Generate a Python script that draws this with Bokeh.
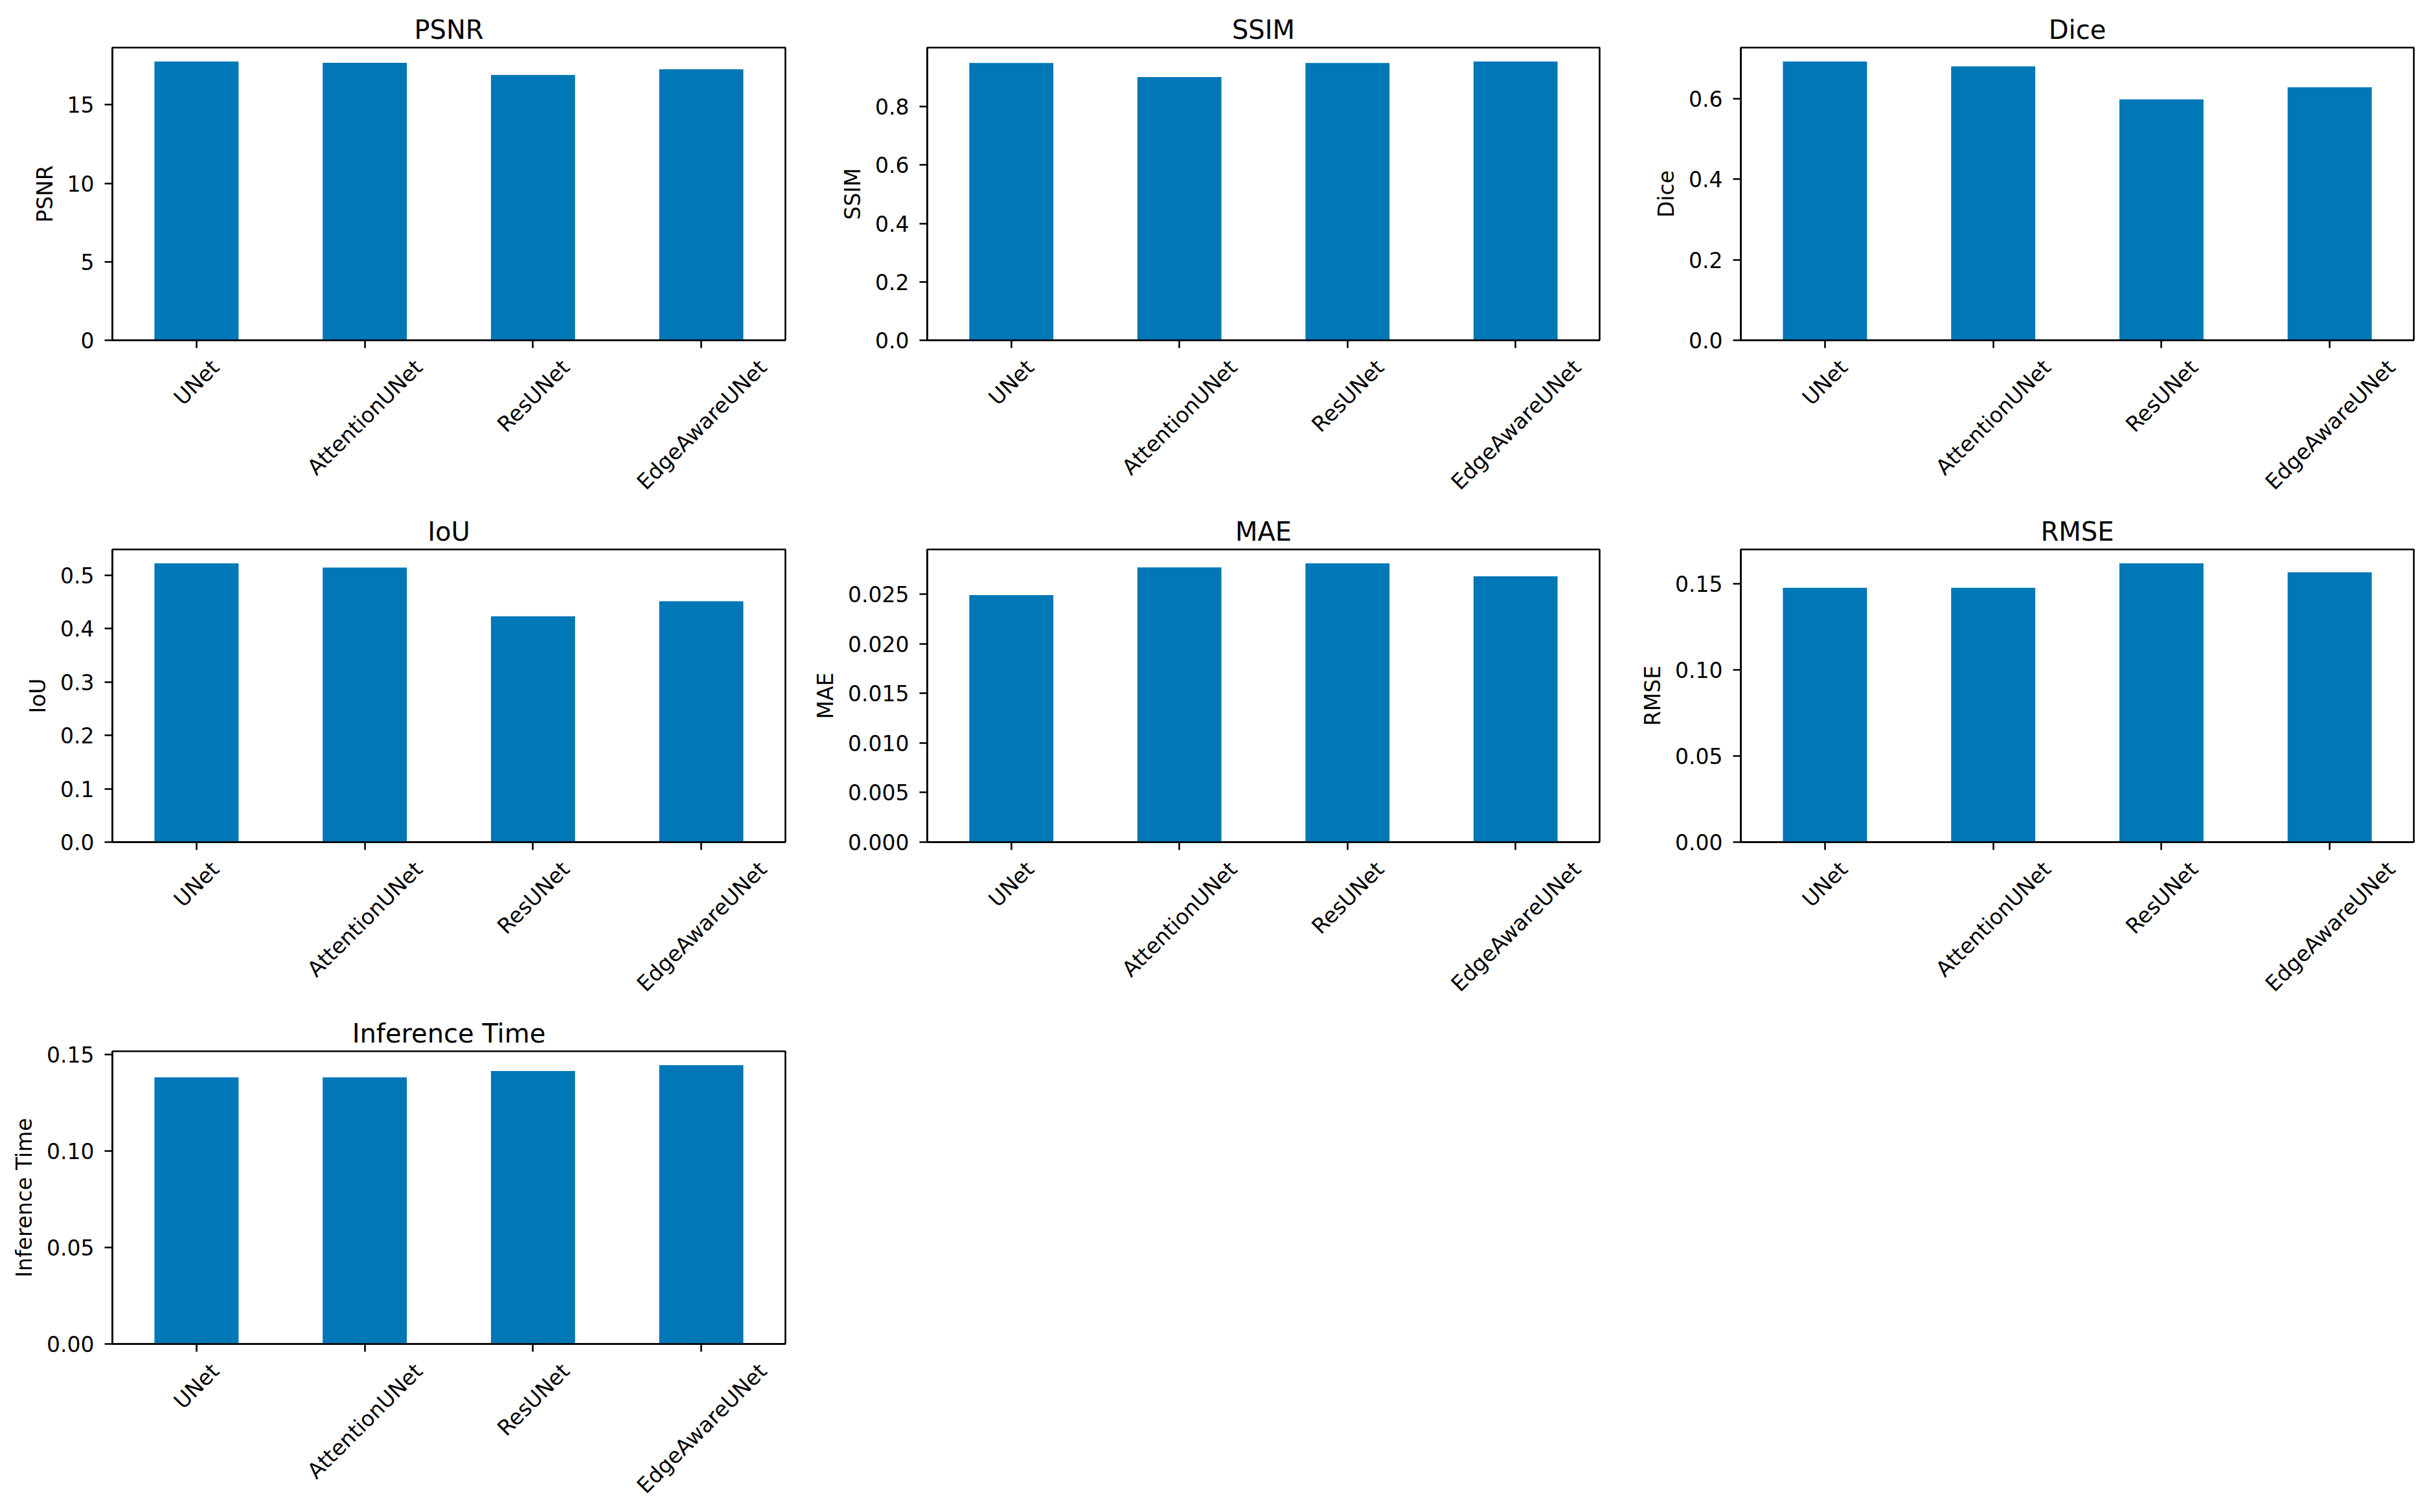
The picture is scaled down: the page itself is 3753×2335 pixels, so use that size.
import math
from bokeh.plotting import figure
from bokeh.layouts import gridplot
from bokeh.models import (Range1d, FixedTicker, PrintfTickFormatter, LinearAxis,
                          CustomJSTickFormatter)
from bokeh.embed import file_html
from bokeh.resources import INLINE

# ---------------- data ----------------
models = ["UNet", "AttentionUNet", "ResUNet", "EdgeAwareUNet"]

psnr = [17.76, 17.68, 16.90, 17.27]
ssim = [0.949, 0.901, 0.949, 0.954]
dice = [0.692, 0.680, 0.598, 0.628]
iou = [0.522, 0.514, 0.423, 0.451]
mae = [0.0249, 0.0277, 0.0281, 0.0268]
rmse = [0.1476, 0.1476, 0.1618, 0.1566]
inference_time = [0.1383, 0.1383, 0.1416, 0.1446]

metric_names = ["PSNR", "SSIM", "Dice", "IoU", "MAE", "RMSE", "Inference Time"]
metric_values = [psnr, ssim, dice, iou, mae, rmse, inference_time]

psnr_ticks = [0, 5, 10, 15]
ssim_ticks = [0.0, 0.2, 0.4, 0.6, 0.8]
dice_ticks = [0.0, 0.2, 0.4, 0.6]
iou_ticks = [0.0, 0.1, 0.2, 0.3, 0.4, 0.5]
mae_ticks = [0.0, 0.005, 0.010, 0.015, 0.020, 0.025]
rmse_ticks = [0.00, 0.05, 0.10, 0.15]
time_ticks = [0.00, 0.05, 0.10, 0.15]
metric_ticks = [psnr_ticks, ssim_ticks, dice_ticks, iou_ticks, mae_ticks, rmse_ticks, time_ticks]
tick_formats = ["%d", "%.1f", "%.1f", "%.1f", "%.3f", "%.2f", "%.2f"]

# ---------------- style / layout ----------------
FONT = "DejaVu Sans"
BAR_COLOR = "#0077B6"
TICK_PX = 33
TITLE_PX = 40
FRAME_W = 1039
FRAME_H = 452
COL_W = [1252, 1257, 1237]
COL_LB = [173, 178, 178]
ROW_H = [783, 775, 775]
ROW_TB = [73, 65, 65]
LINE_W = 2.6
LABEL_STANDOFF = 24

# approximate DejaVu Sans advance widths (em), used to centre rotated labels
CW = {"U": .732, "N": .748, "e": .615, "t": .392, "A": .684, "n": .634, "i": .278,
      "o": .612, "R": .695, "s": .521, "E": .632, "d": .635, "g": .635, "w": .818,
      "a": .613, "r": .411}


def text_w(s):
    return sum(CW.get(c, 0.6) for c in s) * TICK_PX


def style_axis(ax):
    ax.axis_line_color = "black"
    ax.axis_line_width = LINE_W
    ax.major_tick_line_color = "black"
    ax.major_tick_line_width = LINE_W
    ax.major_tick_out = 12
    ax.major_tick_in = 0
    ax.minor_tick_line_color = None
    ax.major_label_text_font = FONT
    ax.major_label_text_font_size = f"{TICK_PX}px"
    ax.major_label_text_color = "black"


def make_panel(idx):
    name = metric_names[idx]
    vals = metric_values[idx]
    r, c = divmod(idx, 3)
    w = COL_W[c]
    h = ROW_H[r]
    lb = COL_LB[c]
    tb = ROW_TB[r]
    rb = w - lb - FRAME_W
    bb = h - tb - FRAME_H
    xs = list(range(len(models)))
    p = figure(width=w, height=h, output_backend="svg", toolbar_location=None,
               x_range=Range1d(-0.5, len(models) - 0.5),
               y_range=Range1d(0, 1.05 * max(vals)),
               min_border_left=lb, min_border_right=rb,
               min_border_top=tb, min_border_bottom=bb,
               title=name)
    p.vbar(x=xs, top=vals, width=0.5, bottom=0, fill_color=BAR_COLOR, line_color=None)

    p.title.text_font = FONT
    p.title.text_font_size = f"{TITLE_PX}px"
    p.title.text_font_style = "normal"
    p.title.text_color = "black"
    p.title.align = "center"
    p.title.standoff = 10

    p.xgrid.visible = False
    p.ygrid.visible = False
    p.outline_line_color = "black"
    p.outline_line_width = LINE_W
    p.outline_line_alpha = 1.0
    p.background_fill_color = "white"
    p.border_fill_color = "white"

    # x axis carrying the tick marks at the bar centres
    xa = p.xaxis[0]
    style_axis(xa)
    xa.ticker = FixedTicker(ticks=xs)
    xa.formatter = CustomJSTickFormatter(code="return ''")
    xa.major_label_text_font_size = "1px"
    xa.major_label_standoff = 0

    # second bottom axis carrying the rotated model names, centred like matplotlib
    px_per_unit = FRAME_W / len(models)
    shifted = [i + (text_w(m) / (2 * math.sqrt(2))) / px_per_unit for i, m in enumerate(models)]
    la = LinearAxis(ticker=FixedTicker(ticks=shifted),
                    formatter=CustomJSTickFormatter(args=dict(names=models),
                                                    code="return names[index]"))
    style_axis(la)
    la.axis_line_color = None
    la.major_tick_line_color = None
    la.major_tick_out = 0
    la.major_label_orientation = math.pi / 4
    la.major_label_standoff = LABEL_STANDOFF
    p.add_layout(la, "below")

    ya = p.yaxis[0]
    style_axis(ya)
    ya.ticker = FixedTicker(ticks=metric_ticks[idx])
    ya.formatter = PrintfTickFormatter(format=tick_formats[idx])
    ya.major_label_standoff = 16
    ya.axis_label = name
    ya.axis_label_text_font = FONT
    ya.axis_label_text_font_size = f"{TICK_PX}px"
    ya.axis_label_text_font_style = "normal"
    ya.axis_label_text_color = "black"
    ya.axis_label_standoff = 12
    return p


panels = [make_panel(i) for i in range(len(metric_names))]
grid = gridplot([[panels[0], panels[1], panels[2]],
                 [panels[3], panels[4], panels[5]],
                 [panels[6], None, None]],
                toolbar_location=None)

open("out.html", "w").write(file_html(grid, INLINE))
